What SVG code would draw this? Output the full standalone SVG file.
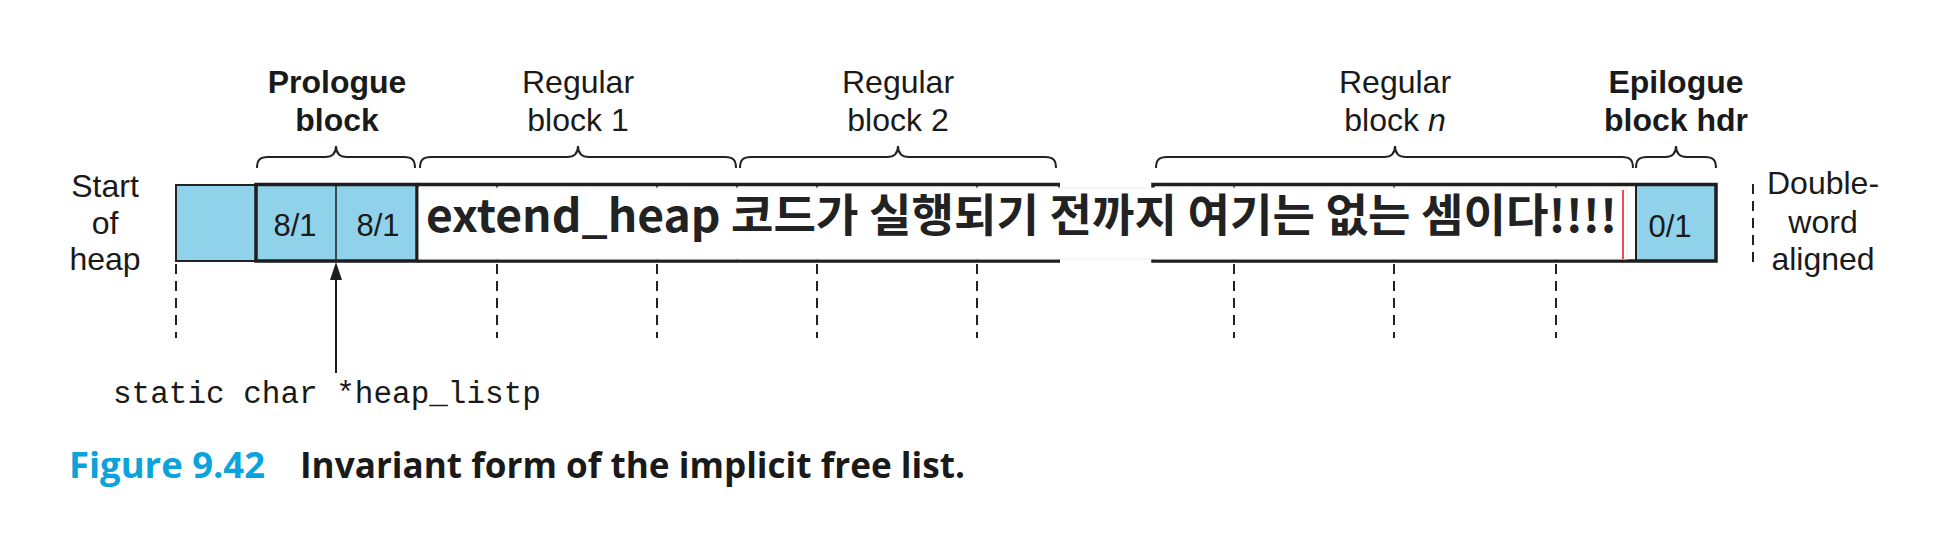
<svg xmlns="http://www.w3.org/2000/svg" width="1950" height="534" viewBox="0 0 1950 534">
<defs>
<style>
.lbl{font-family:"Liberation Sans",Arial,Helvetica,sans-serif;font-size:32px;fill:#1a1a1a;text-anchor:middle}
.b{font-weight:700}
.num{font-family:"Liberation Sans",Arial,Helvetica,sans-serif;font-size:31px;fill:#1a1a1a;text-anchor:middle}
.brace{fill:none;stroke:#222;stroke-width:2}
.dash{stroke:#222;stroke-width:2;stroke-dasharray:10 7}
.thick{fill:none;stroke:#1e1e1e;stroke-width:3.5}
.thin{stroke:#1e1e1e;stroke-width:1.5}
.blue{fill:#90d2ea}
</style>
<marker id="ah" viewBox="0 0 18 12" refX="10" refY="6" markerWidth="18" markerHeight="12" markerUnits="userSpaceOnUse" orient="auto">
<path d="M0 0 L18 6 L0 12 Z" fill="#1e1e1e"/>
</marker>
</defs>
<rect width="1950" height="534" fill="#fff"/>

<g id="connectors">
<path class="brace" d="M257 168 C257 160 260 157 268 157 L325 157 C332 157 336 153 336 146 C336 153 340 157 347 157 L404 157 C412 157 415 160 415 168"/>
<path class="brace" d="M420 168 C420 160 423 157 431 157 L567 157 C574 157 578 153 578 146 C578 153 582 157 589 157 L725 157 C733 157 736 160 736 168"/>
<path class="brace" d="M740 168 C740 160 743 157 751 157 L887 157 C894 157 898 153 898 146 C898 153 902 157 909 157 L1045 157 C1053 157 1056 160 1056 168"/>
<path class="brace" d="M1156 168 C1156 160 1159 157 1167 157 L1384 157 C1391 157 1395 153 1395 146 C1395 153 1399 157 1406 157 L1622 157 C1630 157 1633 160 1633 168"/>
<path class="brace" d="M1636 168 C1636 160 1639 157 1647 157 L1665 157 C1672 157 1676 153 1676 146 C1676 153 1680 157 1687 157 L1705 157 C1713 157 1716 160 1716 168"/>
<line class="dash" x1="176" y1="264" x2="176" y2="338"/>
<line class="dash" x1="497" y1="264" x2="497" y2="338"/>
<line class="dash" x1="657" y1="264" x2="657" y2="338"/>
<line class="dash" x1="817" y1="264" x2="817" y2="338"/>
<line class="dash" x1="977" y1="264" x2="977" y2="338"/>
<line class="dash" x1="1234" y1="264" x2="1234" y2="338"/>
<line class="dash" x1="1394" y1="264" x2="1394" y2="338"/>
<line class="dash" x1="1556" y1="264" x2="1556" y2="338"/>
<line class="dash" x1="1753" y1="184" x2="1753" y2="264"/>
<line x1="336" y1="373" x2="336" y2="270" stroke="#1e1e1e" stroke-width="2" marker-end="url(#ah)"/>
</g>

<g id="start-block">
<rect class="blue" x="176" y="185" width="80" height="76" stroke="#222" stroke-width="2"/>
</g>

<g id="prologue">
<rect class="blue" x="256" y="184.5" width="161" height="76.5"/>
<line class="thin" x1="336" y1="185" x2="336" y2="261"/>
<rect class="thick" x="256" y="184.5" width="161" height="76.5"/>
<text class="num" x="295" y="236">8/1</text>
<text class="num" x="378" y="236">8/1</text>
</g>

<g id="regular-blocks">
<line class="thin" x1="497" y1="185" x2="497" y2="261"/>
<line class="thin" x1="657" y1="185" x2="657" y2="261"/>
<line class="thin" x1="737" y1="185" x2="737" y2="261" stroke-width="2"/>
<line class="thin" x1="817" y1="185" x2="817" y2="261"/>
<line class="thin" x1="977" y1="185" x2="977" y2="261"/>
<line class="thin" x1="1059" y1="185" x2="1059" y2="261"/>
<path class="thick" d="M417 184.5 H1060 M417 261 H1060"/>
<line class="thin" x1="1234" y1="185" x2="1234" y2="261"/>
<line class="thin" x1="1394" y1="185" x2="1394" y2="261"/>
<line class="thin" x1="1556" y1="185" x2="1556" y2="261"/>
<path class="thick" d="M1636 184.5 H1153 V261 H1636"/>
</g>

<g id="epilogue">
<rect class="blue" x="1636" y="184.5" width="80" height="76.5"/>
<path class="thick" d="M1636 184.5 H1716 V261 H1636"/>
<line x1="1636" y1="185" x2="1636" y2="261" stroke="#1e1e1e" stroke-width="2"/>
<text class="num" x="1670" y="236.5">0/1</text>
</g>

<g id="overlay-note">
<rect x="419" y="188" width="1208" height="71" fill="#fff" stroke="#f6e9eb" stroke-width="1"/>
<line x1="1623" y1="190" x2="1623" y2="259" stroke="#e4222b" stroke-width="1.6"/>
<text x="426" y="232" font-family="'Noto Sans CJK KR','Noto Sans',sans-serif" font-weight="700" font-size="45" fill="#222" textLength="1191" lengthAdjust="spacingAndGlyphs">extend_heap 코드가 실행되기 전까지 여기는 없는 셈이다!!!!</text>
</g>

<g id="labels">
<text class="lbl b" x="337" y="93">Prologue</text>
<text class="lbl b" x="337" y="131">block</text>
<text class="lbl" x="578" y="93">Regular</text>
<text class="lbl" x="578" y="131">block 1</text>
<text class="lbl" x="898" y="93">Regular</text>
<text class="lbl" x="898" y="131">block 2</text>
<text class="lbl" x="1395" y="93">Regular</text>
<text class="lbl" x="1395" y="131">block <tspan font-style="italic">n</tspan></text>
<text class="lbl b" x="1676" y="93">Epilogue</text>
<text class="lbl b" x="1676" y="131">block hdr</text>
<text class="lbl" x="105" y="197">Start</text>
<text class="lbl" x="105" y="234">of</text>
<text class="lbl" x="105" y="270">heap</text>
<text class="lbl" x="1823" y="194">Double-</text>
<text class="lbl" x="1823" y="233">word</text>
<text class="lbl" x="1823" y="270">aligned</text>
</g>

<g id="pointer-label">
<text x="113" y="403" font-family="'Liberation Mono','Courier New',monospace" font-size="31" fill="#1a1a1a">static char *heap_listp</text>
</g>

<g id="caption">
<text x="69" y="478" font-family="'Open Sans','Noto Sans',sans-serif" font-weight="700" font-size="36" fill="#0aa3db" textLength="196" lengthAdjust="spacingAndGlyphs">Figure 9.42</text>
<text x="300" y="478" font-family="'Open Sans','Noto Sans',sans-serif" font-weight="700" font-size="36" fill="#1a1a1a" textLength="665" lengthAdjust="spacingAndGlyphs">Invariant form of the implicit free list.</text>
</g>
</svg>
